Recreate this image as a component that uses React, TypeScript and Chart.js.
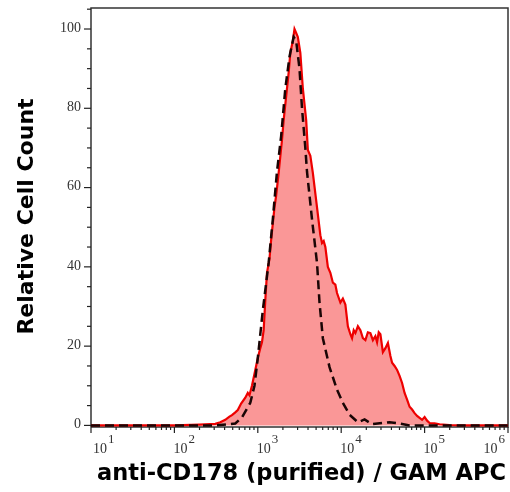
import React, { useEffect, useRef } from "react";
import { Chart, registerables } from "chart.js";

Chart.register(...registerables);

// Stained sample (red, filled): x in log10 decades, y relative count
const stainedLog = [
  1.0, 1.5, 2.0, 2.3, 2.49, 2.55, 2.61, 2.66, 2.69, 2.73, 2.76, 2.8, 2.85, 2.88, 2.9, 2.93,
  2.97, 3.0, 3.03, 3.05, 3.07, 3.09, 3.11, 3.14, 3.16, 3.2, 3.22, 3.25, 3.29, 3.31, 3.35, 3.37,
  3.39, 3.42, 3.44, 3.46, 3.48, 3.51, 3.54, 3.58, 3.6, 3.63, 3.66, 3.71, 3.75, 3.77, 3.79, 3.81,
  3.84, 3.87, 3.9, 3.93, 3.95, 3.99, 4.02, 4.05, 4.08, 4.11, 4.13, 4.15, 4.17, 4.2, 4.23, 4.26,
  4.29, 4.32, 4.35, 4.38, 4.41, 4.43, 4.45, 4.47, 4.5, 4.53, 4.56, 4.59, 4.61, 4.64, 4.67, 4.7,
  4.73, 4.76, 4.79, 4.82, 4.85, 4.88, 4.91, 4.94, 4.97, 5.0, 5.03, 5.06, 5.12, 5.18, 5.3, 5.42,
  6.0,
];
const stainedCount = [
  0, 0, 0, 0.2, 0.4, 0.8, 1.4, 2.2, 2.6, 3.3, 3.9, 5.5, 7, 8.2, 7.6, 10,
  14, 17, 19.5, 21, 24, 31.6, 38.5, 42, 46.8, 55, 58, 63.7, 72, 77, 85, 89,
  94, 97, 100, 99, 98, 94, 85, 77, 69.5, 68, 63.7, 55, 48, 46, 46.5, 45,
  40, 38.5, 36, 35.5, 33.4, 31, 32, 30.5, 25, 23, 22, 24, 23.3, 25, 24, 22,
  21.5, 23.5, 23.3, 21.5, 22.5, 21, 23.5, 23, 18.5, 19.5, 20.8, 17.5, 15.8, 15, 14, 12.5,
  10.7, 8.2, 6.5, 4.7, 4, 3.1, 2.4, 1.9, 1.4, 2.1, 1.2, 0.6, 0.5, 0.3, 0.1, 0,
  0,
];

// Control (black dashed)
const controlLog = [
  1.0, 2.5, 2.73, 2.81, 2.91, 2.96, 3.0, 3.06, 3.13, 3.18, 3.23, 3.28, 3.33, 3.38, 3.43, 3.46,
  3.5, 3.53, 3.57, 3.59, 3.65, 3.71, 3.74, 3.78, 3.86, 3.95, 4.02, 4.1, 4.2, 4.28, 4.37, 4.58,
  4.7, 4.82, 6.0,
];
const controlCount = [
  0, 0, 0.5, 2, 5.7, 10, 17, 29, 41, 52, 64, 73, 85, 93, 98, 97,
  90, 80, 70, 64, 52, 41, 31, 22, 14.7, 9, 5.7, 2.7, 0.8, 1.5, 0.3, 0.8,
  0.5, 0, 0,
];

const yMajorTicks = [0, 20, 40, 60, 80, 100];
const xDecades = [1, 2, 3, 4, 5, 6];
const xTitle = "anti-CD178 (purified) / GAM APC";
const yTitle = "Relative Cell Count";

const toPoints = (logs: number[], ys: number[]) =>
  logs.map((e, i) => ({ x: Math.pow(10, e), y: ys[i] }));

const axesPlugin = {
  id: "flowAxes",
  beforeDatasetsDraw(chart: any) {
    const { ctx, chartArea } = chart;
    const xs = chart.scales.x;
    const ys = chart.scales.y;
    const { left, right, top, bottom } = chartArea;
    ctx.save();
    // frame
    ctx.strokeStyle = "#333";
    ctx.lineWidth = 1.5;
    ctx.beginPath();
    ctx.moveTo(left, bottom);
    ctx.lineTo(left, top);
    ctx.lineTo(right, top);
    ctx.lineTo(right, bottom);
    ctx.lineTo(left, bottom);
    ctx.stroke();

    // y ticks
    ctx.strokeStyle = "#222";
    ctx.lineWidth = 1.2;
    for (let v = 0; v <= 105; v += 5) {
      const py = ys.getPixelForValue(v);
      const major = yMajorTicks.includes(v);
      ctx.beginPath();
      ctx.moveTo(left, py);
      ctx.lineTo(left - (major ? 7 : 4), py);
      ctx.stroke();
    }
    ctx.fillStyle = "#333";
    ctx.font = "14px 'Liberation Serif', serif";
    ctx.textAlign = "right";
    ctx.textBaseline = "middle";
    yMajorTicks.forEach((v) => {
      ctx.fillText(String(v), left - 10, ys.getPixelForValue(v) - 1);
    });

    // x ticks
    xDecades.forEach((d) => {
      const px = xs.getPixelForValue(Math.pow(10, d));
      ctx.beginPath();
      ctx.moveTo(px, bottom);
      ctx.lineTo(px, bottom + 6);
      ctx.stroke();
      if (d < 6) {
        for (let m = 2; m <= 9; m++) {
          const mx = xs.getPixelForValue(m * Math.pow(10, d));
          ctx.beginPath();
          ctx.moveTo(mx, bottom);
          ctx.lineTo(mx, bottom + 3);
          ctx.stroke();
        }
      }
    });
    ctx.textAlign = "left";
    ctx.textBaseline = "alphabetic";
    const baseFont = "14px 'Liberation Serif', serif";
    const expFont = "13px 'Liberation Serif', serif";
    xDecades.forEach((d, i) => {
      const px = xs.getPixelForValue(Math.pow(10, d));
      ctx.font = baseFont;
      const baseW = ctx.measureText("10").width;
      ctx.font = expFont;
      const expW = ctx.measureText(String(d)).width;
      let x0 = px + (i === 0 ? 2 : -1);
      if (i === xDecades.length - 1) x0 = right - 3 - baseW - expW - 1;
      ctx.font = baseFont;
      ctx.fillText("10", x0, bottom + 26);
      ctx.font = expFont;
      ctx.fillText(String(d), x0 + baseW + 1, bottom + 16);
    });

    // titles
    ctx.fillStyle = "#000";
    ctx.textAlign = "center";
    ctx.textBaseline = "middle";
    ctx.font = "bold 22.5px 'DejaVu Sans', sans-serif";
    ctx.fillText(xTitle, (left + right) / 2 + 2, 474);
    ctx.font = "bold 22px 'DejaVu Sans', sans-serif";
    ctx.translate(27, (top + bottom) / 2 - 1);
    ctx.rotate(-Math.PI / 2);
    ctx.fillText(yTitle, 0, 0);
    ctx.restore();
  },
};

export default function App() {
  const ref = useRef<HTMLCanvasElement | null>(null);
  useEffect(() => {
    if (!ref.current) return;
    const chart = new Chart(ref.current, {
      type: "line",
      data: {
        datasets: [
          {
            label: "Control",
            data: toPoints(controlLog, controlCount),
            borderColor: "#1a0505",
            borderWidth: 2.5,
            borderDash: [9, 5],
            pointRadius: 0,
            fill: false,
            tension: 0,
          },
          {
            label: "anti-CD178",
            data: toPoints(stainedLog, stainedCount),
            borderColor: "#ee0000",
            borderWidth: 2.2,
            backgroundColor: "rgba(250,140,140,0.9)",
            pointRadius: 0,
            fill: "origin",
            tension: 0,
          },
        ],
      },
      options: {
        animation: false,
        responsive: false,
        parsing: true,
        layout: { padding: { left: 91, right: 2, top: 8, bottom: 65 } },
        plugins: { legend: { display: false }, tooltip: { enabled: false } },
        scales: {
          x: { type: "logarithmic", min: 10, max: 1e6, display: false },
          y: { type: "linear", min: -0.4, max: 105.3, display: false },
        },
      },
      plugins: [axesPlugin],
    });
    return () => chart.destroy();
  }, []);
  return (
    <div style={{ position: "fixed", left: 0, top: 0, width: 510, height: 492, background: "#fff" }}>
      <canvas ref={ref} width={510} height={492} style={{ width: 510, height: 492 }} />
    </div>
  );
}
